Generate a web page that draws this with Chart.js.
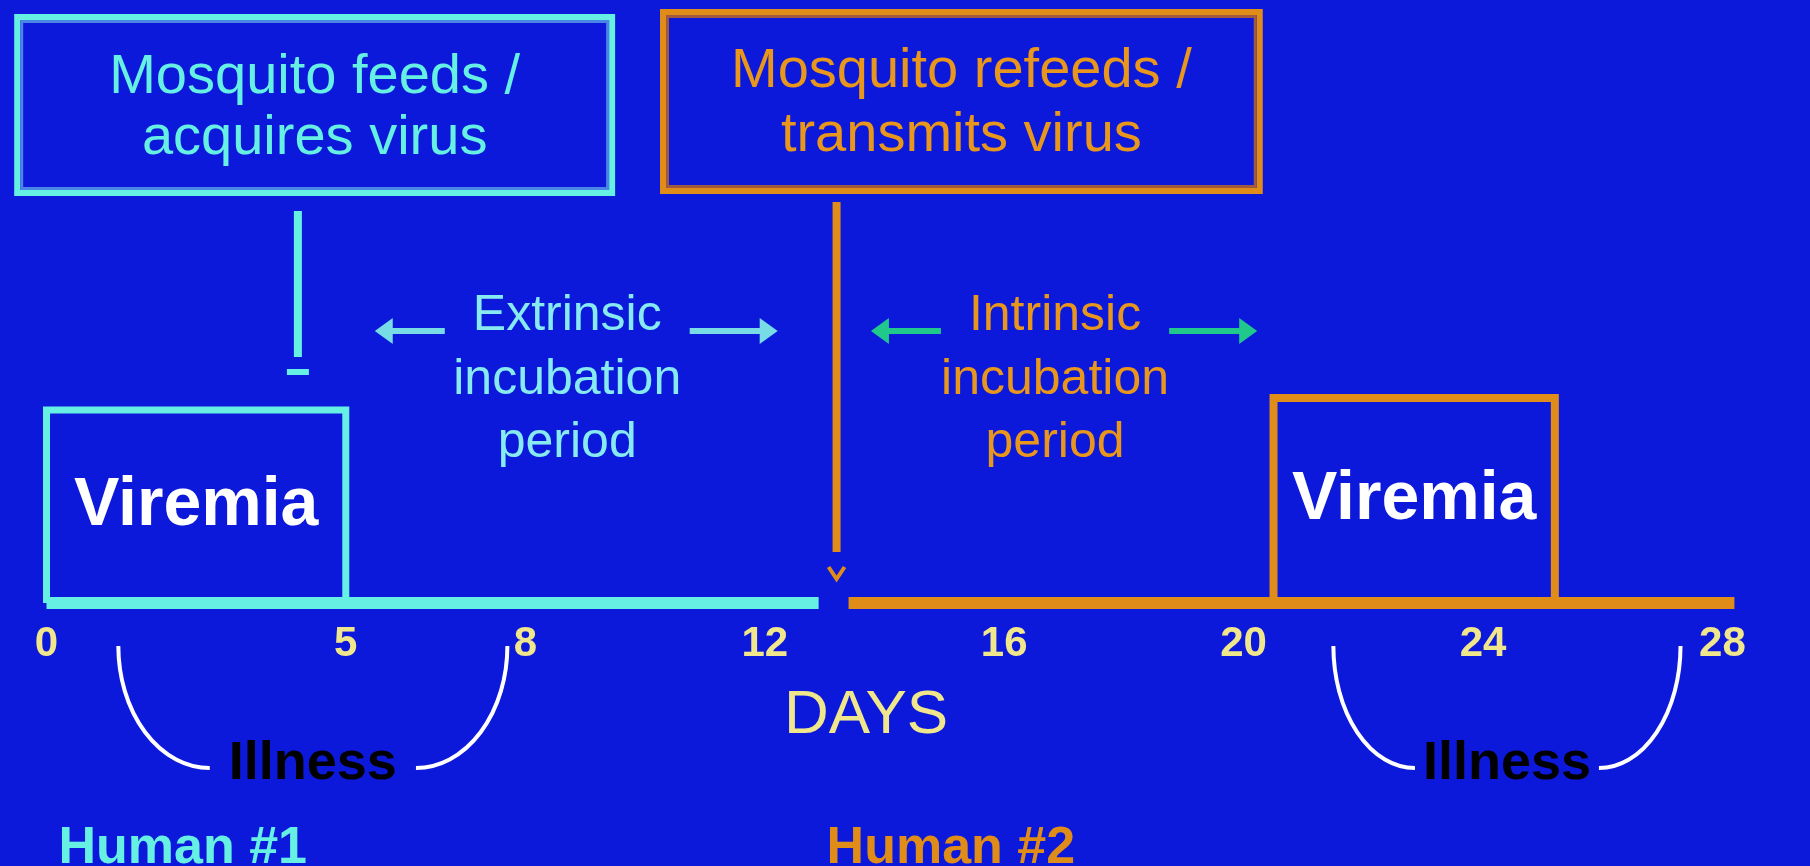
<!DOCTYPE html>
<html lang="en">
<head>
  <meta charset="UTF-8">
  <title>Extrinsic and intrinsic incubation</title>
  <script src="https://cdn.jsdelivr.net/npm/chart.js"></script>
  <style>
    html, body { margin: 0; padding: 0; background: #0d19da; overflow: hidden; }
    canvas { display: block; }
  </style>
</head>
<body>
  <canvas id="cycleChart" width="1810" height="866"></canvas>

  <script>
    // Axis ticks (days)
    const dayTicks = [0, 5, 8, 12, 16, 20, 24, 28];

    // Human #1 / Human #2 periods, in days
    const viremia1 = [0, 5];
    const viremia2 = [20.5, 25.2];
    const illness1 = [1.2, 7.7];
    const illness2 = [21.5, 27.3];
    const timeline1 = [0, 12.9];
    const timeline2 = [13.4, 28.2];

    // Mosquito bites, in days
    const feedDay = 4.2;
    const refeedDay = 13.2;

    // colours
    const bg = '#0d19da';
    const cyan = '#66f0e4';
    const cyanInner = '#4a86e6';
    const cyanText = '#86eaf0';
    const orange = '#e08c18';
    const orangeInner = '#a05a40';
    const orangeText = '#e8961c';
    const green = '#20c88c';
    const khaki = '#f0e68c';
    const family = "'Liberation Sans', Arial, sans-serif";

    // note boxes at the top (x in days, y in chart units)
    const noteBoxes = [
      { from: -0.54, to: 9.5, top: 58.9, bottom: 40.7, lineY: [52.5, 46.4],
        lines: ['Mosquito feeds /', 'acquires virus'], color: cyan, inner: cyanInner, text: cyan },
      { from: 10.25, to: 20.32, top: 59.4, bottom: 40.9, lineY: [53.1, 46.7],
        lines: ['Mosquito refeeds /', 'transmits virus'], color: orange, inner: orangeInner, text: orangeText }
    ];

    const periods = [
      { from: feedDay, to: refeedDay, lines: ['Extrinsic', 'incubation', 'period'], text: cyanText, arrow: '#78dce6' },
      { from: refeedDay, to: viremia2[0], lines: ['Intrinsic', 'incubation', 'period'], text: orangeText, arrow: green }
    ];

    function seg(points, color, width) {
      return {
        data: points,
        showLine: true,
        borderColor: color,
        borderWidth: width,
        pointRadius: 0,
        fill: false,
        clip: false,
        tension: 0,
        borderCapStyle: 'butt',
        borderJoinStyle: 'miter'
      };
    }

    function box(span, height) {
      return [
        { x: span[0], y: 0 }, { x: span[0], y: height },
        { x: span[1], y: height }, { x: span[1], y: 0 }
      ];
    }

    function arrow(ctx, from, to, yy, color) {
      const dir = Math.sign(to - from);
      ctx.strokeStyle = color;
      ctx.fillStyle = color;
      ctx.lineWidth = 6;
      ctx.beginPath();
      ctx.moveTo(from, yy);
      ctx.lineTo(to - dir * 14, yy);
      ctx.stroke();
      ctx.beginPath();
      ctx.moveTo(to, yy);
      ctx.lineTo(to - dir * 18, yy - 13);
      ctx.lineTo(to - dir * 18, yy + 13);
      ctx.closePath();
      ctx.fill();
    }

    const diagramNotes = {
      id: 'diagramNotes',
      beforeDraw(chart) {
        const ctx = chart.ctx;
        ctx.save();
        ctx.fillStyle = bg;
        ctx.fillRect(0, 0, chart.width, chart.height);
        ctx.restore();
      },
      afterDatasetsDraw(chart) {
        const { ctx, scales: { x, y } } = chart;
        const X = v => x.getPixelForValue(v);
        const Y = v => y.getPixelForValue(v);
        ctx.save();
        ctx.textAlign = 'center';
        ctx.textBaseline = 'middle';

        // boxes at the top
        noteBoxes.forEach(b => {
          const l = X(b.from), r = X(b.to), t = Y(b.top), bt = Y(b.bottom);
          ctx.lineWidth = 6;
          ctx.strokeStyle = b.color;
          ctx.strokeRect(l + 3, t + 3, r - l - 6, bt - t - 6);
          ctx.lineWidth = 3;
          ctx.strokeStyle = b.inner;
          ctx.strokeRect(l + 7.5, t + 7.5, r - l - 15, bt - t - 15);
          ctx.fillStyle = b.text;
          ctx.font = '56px ' + family;
          b.lines.forEach((s, i) => ctx.fillText(s, (l + r) / 2, Y(b.lineY[i])));
        });

        // end marks of the bite lines
        ctx.fillStyle = cyan;
        ctx.fillRect(X(feedDay) - 11, Y(23.1) - 3, 22, 6);
        ctx.strokeStyle = orange;
        ctx.lineWidth = 4;
        ctx.beginPath();
        ctx.moveTo(X(refeedDay) - 8, Y(3.6));
        ctx.lineTo(X(refeedDay), Y(2.4));
        ctx.lineTo(X(refeedDay) + 8, Y(3.6));
        ctx.stroke();

        // incubation periods
        periods.forEach(p => {
          const cx = X((p.from + p.to) / 2);
          ctx.font = '50px ' + family;
          ctx.fillStyle = p.text;
          [28.7, 22.3, 16.0].forEach((yy, i) => ctx.fillText(p.lines[i], cx, Y(yy)));
          const half = ctx.measureText(p.lines[0]).width / 2;
          arrow(ctx, cx - half - 28, cx - half - 98, Y(27.2), p.arrow);
          arrow(ctx, cx + half + 28, cx + half + 116, Y(27.2), p.arrow);
        });

        // viremia labels
        ctx.fillStyle = '#ffffff';
        ctx.font = 'bold 68px ' + family;
        [[viremia1, 19.3], [viremia2, 20.5]].forEach(([span, h]) => {
          ctx.fillText('Viremia', X((span[0] + span[1]) / 2), Y(h / 2));
        });

        // illness brackets
        [illness1, illness2].forEach(span => {
          const xa = X(span[0]), xb = X(span[1]);
          const yt = Y(-4.3), ry = Y(-16.5) - yt;
          const rx = 0.235 * (xb - xa);
          ctx.strokeStyle = '#ffffff';
          ctx.lineWidth = 4;
          ctx.beginPath();
          ctx.ellipse(xa + rx, yt, rx, ry, 0, Math.PI, Math.PI / 2, true);
          ctx.stroke();
          ctx.beginPath();
          ctx.ellipse(xb - rx, yt, rx, ry, 0, 0, Math.PI / 2, false);
          ctx.stroke();
          ctx.fillStyle = '#000000';
          ctx.font = 'bold 54px ' + family;
          ctx.fillText('Illness', (xa + xb) / 2, Y(-16.1));
        });

        // human labels
        ctx.textAlign = 'left';
        ctx.font = 'bold 52px ' + family;
        ctx.fillStyle = cyan;
        ctx.fillText('Human #1', X(timeline1[0]) + 12, Y(-24.6));
        ctx.fillStyle = orange;
        ctx.fillText('Human #2', X(refeedDay) - 10, Y(-24.6));
        ctx.restore();
      }
    };

    const ctx = document.getElementById('cycleChart').getContext('2d');

    const cycleChart = new Chart(ctx, {
      type: 'scatter',
      data: {
        datasets: [
          seg([{ x: timeline1[0], y: 0 }, { x: timeline1[1], y: 0 }], cyan, 12),
          seg([{ x: timeline2[0], y: 0 }, { x: timeline2[1], y: 0 }], orange, 12),
          seg(box(viremia1, 19.3), cyan, 7),
          seg(box(viremia2, 20.5), orange, 8),
          seg([{ x: feedDay, y: 39.2 }, { x: feedDay, y: 24.6 }], cyan, 8),
          seg([{ x: refeedDay, y: 40.1 }, { x: refeedDay, y: 5.1 }], orange, 8)
        ]
      },
      options: {
        responsive: false,
        animation: false,
        events: [],
        layout: { padding: { left: 0, top: 0, bottom: 0, right: 78 } },
        plugins: {
          legend: { display: false },
          tooltip: { enabled: false }
        },
        scales: {
          x: {
            type: 'linear',
            min: -0.777,
            max: 28.16,
            position: { y: 0 },
            grid: { display: false, drawTicks: false },
            border: { display: false },
            afterBuildTicks: axis => {
              axis.ticks = dayTicks.map(v => ({ value: v }));
            },
            ticks: {
              color: khaki,
              font: { family: family, size: 42, weight: 'bold' },
              padding: 16,
              autoSkip: false,
              maxRotation: 0,
              minRotation: 0,
              callback: v => String(v)
            },
            title: {
              display: true,
              text: 'DAYS',
              color: khaki,
              font: { family: family, size: 62, lineHeight: 1.0 },
              padding: { top: 0, bottom: 0 }
            }
          },
          y: {
            display: false,
            min: -26.3,
            max: 60.3
          }
        }
      },
      plugins: [diagramNotes]
    });
  </script>
</body>
</html>
